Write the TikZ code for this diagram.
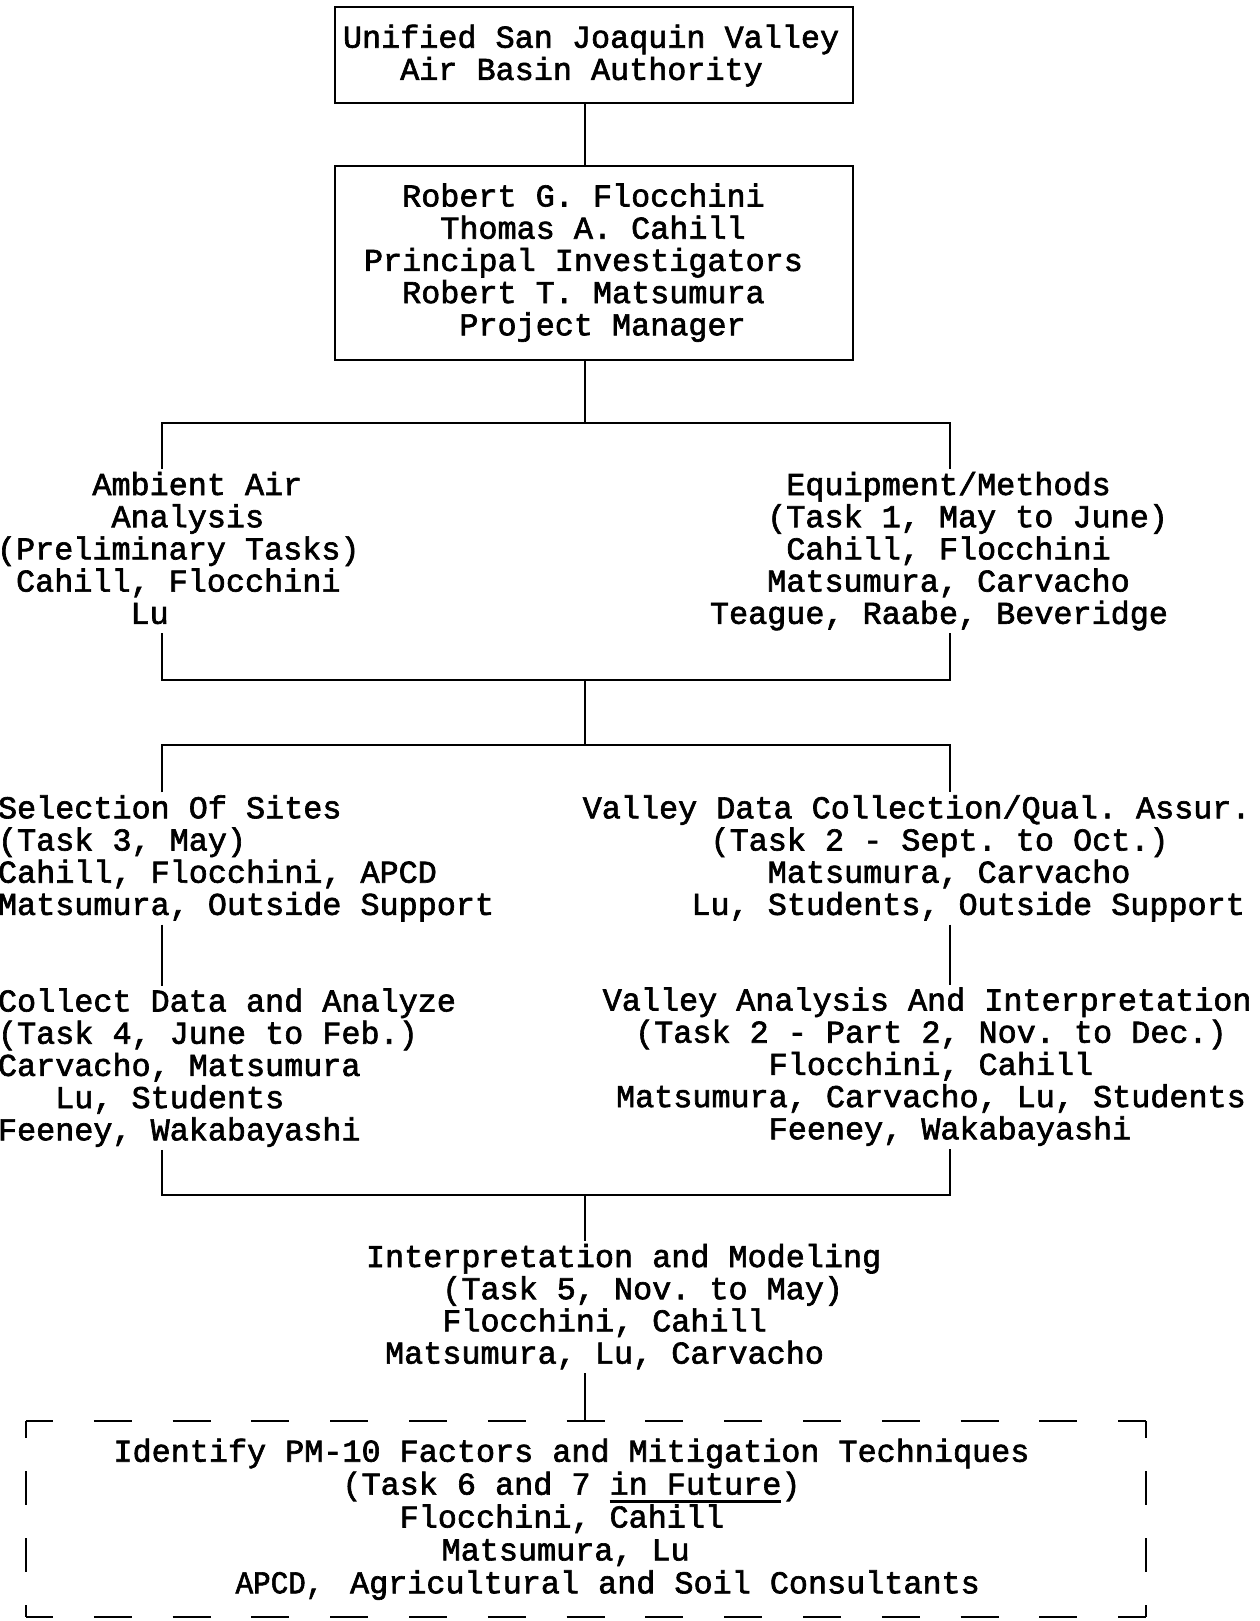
\documentclass[tikz,border=0pt]{standalone}
\usepackage{fontspec}
\usepackage{graphicx}
\usepackage{tikz}
\usetikzlibrary{calc,positioning}
\newfontfamily\chartfont[FakeBold=2]{Liberation Mono}
\newcommand{\pad}[1]{\hspace*{#1\dimexpr0.6em\relax}}
\newcommand{\tstrut}{\rule{0pt}{26pt}}
\newcommand{\undl}[1]{\setbox0\hbox{#1}\rlap{\rule[-8pt]{\wd0}{2.5pt}}\box0}

\begin{document}
\begin{tikzpicture}[x=1pt,y=-1pt,line width=2pt,
                    box/.style={draw,rectangle,inner sep=0pt,minimum width=518pt},
                    txt/.style={anchor=north west,inner sep=0pt,outer sep=0pt,align=left,
                      font=\chartfont\fontsize{31.8}{32.2}\selectfont\frenchspacing},
                    hdash/.style={dash pattern=on 38pt off 40.8pt,dash phase=11pt},
                    vdash/.style={dash pattern=on 34pt off 33pt,dash phase=17pt}]

  \useasboundingbox (0,0) rectangle (1259,1621);

  \coordinate (lft) at (162,0);
  \coordinate (mid) at (585,0);
  \coordinate (rgt) at (950,0);
  \coordinate (j1) at (585,423);
  \coordinate (j2) at (585,680);
  \coordinate (j3) at (585,745);
  \coordinate (j4) at (585,1195);

  \node[box,minimum height=96pt] (usj) at (594,55) {};
  \node[txt] (usjt) at (343,21.7) {\tstrut Unified San Joaquin Valley\\
    \pad{3}Air Basin Authority\strut};

  \node[box,minimum height=194pt] (pi) at (594,263) {};
  \node[txt] (pit) at (364,180.5) {\tstrut\pad{2}Robert G. Flocchini\\
    \pad{4}Thomas A. Cahill\\
    Principal Investigators\\
    \pad{2}Robert T. Matsumura\\
    \pad{5}Project Manager\strut};

  \node[txt] (amb) at (-3,469) {\tstrut\pad{5}Ambient Air\\
    \pad{6}Analysis\\
    (Preliminary Tasks)\\
    \pad{1}Cahill, Flocchini\\
    \pad{7}Lu\strut};
  \node[txt] (equ) at (710,469) {\tstrut\pad{4}Equipment/Methods\\
    \pad{3}(Task 1, May to June)\\
    \pad{4}Cahill, Flocchini\\
    \pad{3}Matsumura, Carvacho\\
    Teague, Raabe, Beveridge\strut};

  \node[txt] (sel) at (-2,792.3) {\tstrut Selection Of Sites\\
    (Task 3, May)\\
    Cahill, Flocchini, APCD\\
    Matsumura, Outside Support\strut};
  \node[txt] (vdc) at (577,792.3) {\tstrut\pad{0.3}Valley Data Collection/Qual. Assur.\\
    \pad{7}(Task 2 - Sept. to Oct.)\\
    \pad{10}Matsumura, Carvacho\\
    \pad{6}Lu, Students, Outside Support\strut};

  \node[txt] (col) at (-2,985.5) {\tstrut Collect Data and Analyze\\
    (Task 4, June to Feb.)\\
    Carvacho, Matsumura\\
    \pad{3}Lu, Students\\
    Feeney, Wakabayashi\strut};
  \node[txt] (vai) at (597,984.5) {\tstrut\pad{0.3}Valley Analysis And Interpretation\\
    \pad{2}(Task 2 - Part 2, Nov. to Dec.)\\
    \pad{9}Flocchini, Cahill\\
    \pad{1}Matsumura, Carvacho, Lu, Students\\
    \pad{9}Feeney, Wakabayashi\strut};

  \node[txt] (imod) at (366,1241) {\tstrut Interpretation and Modeling\\
    \pad{4}(Task 5, Nov. to May)\\
    \pad{4}Flocchini, Cahill\\
    \pad{1}Matsumura, Lu, Carvacho\strut};

  \node[minimum width=1118pt,minimum height=194pt,inner sep=0pt] (fut) at (586,1519) {};
  \node[txt,font=\chartfont\fontsize{31.8}{32.9}\selectfont\frenchspacing] (futt) at (113.5,1435.7)
    {\tstrut Identify PM-10 Factors and Mitigation Techniques\\
    \pad{12}(Task 6 and 7 \undl{in Future})\\
    \pad{15}Flocchini, Cahill\\
    \pad{17.2}Matsumura, Lu\\
    \pad{6.4}\makebox[5\dimexpr0.6em\relax][l]{\scalebox{0.92}[1]{APCD,}} Agricultural and Soil Consultants\strut};

  % links
  \draw (usj.south -| mid) -- (pi.north -| mid);
  \draw (pi.south -| mid) -- (j1);
  \draw (amb.north -| lft) |- (j1) -| (equ.north -| rgt);
  \draw (amb.south -| lft) |- (j2) -| (equ.south -| rgt);
  \draw (j2) -- (j3);
  \draw (sel.north -| lft) |- (j3) -| (vdc.north -| rgt);
  \draw (sel.south -| lft) -- (col.north -| lft);
  \draw (vdc.south -| rgt) -- (vai.north -| rgt);
  \draw (col.south -| lft) |- (j4) -| (vai.south -| rgt);
  \draw (j4) -- (imod.north -| mid);
  \draw (imod.south -| mid) -- (fut.north -| mid);

  % dashed future box
  \draw[hdash] (fut.north west) -- (fut.north east);
  \draw[hdash] (fut.south west) -- (fut.south east);
  \draw[vdash] (fut.north west) -- (fut.south west);
  \draw[vdash] (fut.north east) -- (fut.south east);
\end{tikzpicture}
\end{document}
